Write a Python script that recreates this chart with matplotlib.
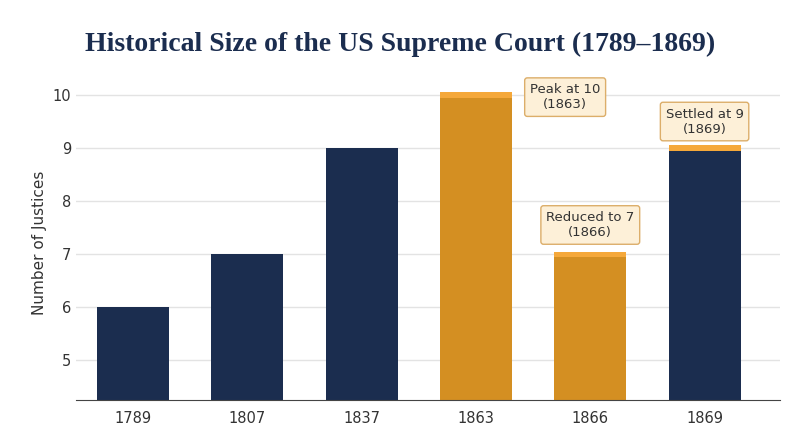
import matplotlib.pyplot as plt

years = ['1789', '1807', '1837', '1863', '1866', '1869']
justices = [6, 7, 9, 10, 7, 9]
highlight = [False, False, False, True, True, False]
capped = [False, False, False, True, True, True]
notes = {3: 'Peak at 10\n(1863)', 4: 'Reduced to 7\n(1866)', 5: 'Settled at 9\n(1869)'}

NAVY = '#1b2d4f'
GOLD = '#d48f22'
CAP = '#f5a83a'

fig = plt.figure(figsize=(8, 4.47), dpi=100)
ax = fig.add_axes([0.095, 0.105, 0.88, 0.705])
x = range(len(years))
colors = [GOLD if h else NAVY for h in highlight]
ax.bar(x, justices, width=0.63, color=colors, zorder=2)
for i, v in enumerate(justices):
    if capped[i]:
        ax.bar(i, 0.1, bottom=v - 0.05, width=0.63, color=CAP, zorder=3)

box = dict(boxstyle='round,pad=0.4,rounding_size=0.2', fc='#fdf0d8', ec='#dcae6a', lw=1)
ax.annotate(notes[3], xy=(3.33, 10.0), xytext=(3.78, 9.96), ha='center', va='center',
            fontsize=9.5, color='#333333', bbox=box, zorder=5)
ax.annotate(notes[4], xy=(4, 7.05), xytext=(4, 7.55), ha='center', va='center',
            fontsize=9.5, color='#333333', bbox=box, zorder=5)
ax.annotate(notes[5], xy=(5, 9.05), xytext=(5, 9.5), ha='center', va='center',
            fontsize=9.5, color='#333333', bbox=box, zorder=5)

ax.set_xlim(-0.5, 5.66)
ax.set_ylim(4.25, 10.19)
ax.set_xticks(list(x))
ax.set_xticklabels(years)
ax.set_yticks([5, 6, 7, 8, 9, 10])
ax.set_ylabel('Number of Justices', fontsize=11, color='#333333')
ax.grid(axis='y', color='#e3e3e3', lw=1, zorder=0)
for s in ['top', 'right', 'left']:
    ax.spines[s].set_visible(False)
ax.spines['bottom'].set_color('#444444')
ax.tick_params(axis='y', length=0, labelsize=10.5, colors='#333333')
ax.tick_params(axis='x', length=0, labelsize=10.5, colors='#333333', pad=8)

fig.text(0.5, 0.9, 'Historical Size of the US Supreme Court (1789–1869)', ha='center',
         va='center', fontsize=20, fontweight='bold', color=NAVY, family='Liberation Serif')
fig.savefig('out.png')
